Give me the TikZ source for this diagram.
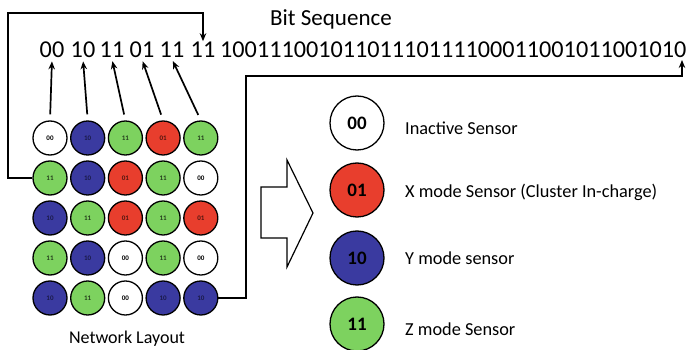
\documentclass[tikz,border=0pt]{standalone}
\usepackage{fontspec}
\setmainfont{Carlito}
\usetikzlibrary{arrows.meta}
\definecolor{sred}{RGB}{232,62,45}
\definecolor{sblue}{RGB}{58,58,160}
\definecolor{sgreen}{RGB}{125,210,95}
\tikzset{
  sensor/.style={circle, draw=black, line width=1.3pt, minimum size=34pt, inner sep=0pt,
    font=\fontsize{7}{8}\selectfont\bfseries},
  t00/.style={sensor, fill=white, text=black},
  t01/.style={sensor, fill=sred, text=sred!35!black},
  t10/.style={sensor, fill=sblue, text=sblue!45!black},
  t11/.style={sensor, fill=sgreen, text=sgreen!30!black},
  bigsensor/.style={circle, draw=black, line width=1.3pt, minimum size=54pt, inner sep=0pt,
    font=\fontsize{19}{22}\selectfont\bfseries, text=black},
  pair/.style={anchor=base, inner sep=1pt, font=\fontsize{24.2}{28}\selectfont},
  legendtext/.style={anchor=base west, inner sep=0pt, font=\fontsize{18.3}{21}\selectfont},
  conn/.style={line width=1.7pt, draw=black},
  tip/.style={-{Stealth[length=8pt,width=6.5pt]}},
}
\begin{document}
\begin{tikzpicture}[x=1pt, y=-1pt]
\useasboundingbox (0,0) rectangle (689,350);

% title
\node[anchor=base, inner sep=0pt, font=\fontsize{23}{27}\selectfont] (title) at (331,26) {Bit Sequence};

% bit sequence
\node[pair] (p1) at (52,58) {00};
\node[pair] (p2) at (83,58) {10};
\node[pair] (p3) at (112,58) {11};
\node[pair] (p4) at (142,58) {01};
\node[pair] (p5) at (172,58) {11};
\node[pair] (p6) at (203,58) {11};
\node[pair, anchor=base west, inner sep=0pt] (seq) at (220,58) {10011100101101110111100011001011001010};

% network grid
\foreach \row [count=\r] in {{00,10,11,01,11},{11,10,01,11,00},{10,11,01,11,01},{11,10,00,11,00},{10,11,00,10,10}}{
  \foreach \c [count=\k] in \row {
    \node[t\c] (c\r\k) at ({12.3+37.7*\k},{98+40*\r}) {\c};
  }
}
\node[anchor=base, inner sep=0pt, font=\fontsize{18}{21}\selectfont] (netlabel) at (127,343) {Network Layout};

% arrows from first row to pairs
\draw[conn, tip, shorten <=6pt, shorten >=2pt] (c11.north) -- (p1.south);
\draw[conn, tip, shorten <=6pt, shorten >=2pt] (c12.north) -- (p2.south);
\draw[conn, tip, shorten <=6pt, shorten >=2pt] (c13.north) -- (p3.south);
\draw[conn, tip, shorten <=6pt, shorten >=2pt] (c14.north) -- (p4.south);
\draw[conn, tip, shorten <=6pt, shorten >=2pt] (c15.north) -- (p5.south);

% left bracket
\coordinate (lb) at (8,13);
\draw[conn, tip] (c21.west) -| (lb) -| (p6.north);

% right bracket
\coordinate (rb) at (246,76);
\coordinate (se) at (682,60);
\draw[conn, tip] (c55.east) -| (rb) -| (se);

% block arrow
\draw[line width=1.2pt, line join=miter] (261,187) -- (287,187) -- (287,160) -- (313,213) -- (287,267) -- (287,238) -- (261,238) -- cycle;

% legend
\node[bigsensor, fill=white] (L1) at (357,123) {00};
\node[bigsensor, fill=sred] (L2) at (357,190) {01};
\node[bigsensor, fill=sblue] (L3) at (357,258) {10};
\node[bigsensor, fill=sgreen] (L4) at (357,324) {11};
\node[legendtext] (T1) at (405,135) {Inactive Sensor};
\node[legendtext] (T2) at (405,198) {X mode Sensor (Cluster In-charge)};
\node[legendtext] (T3) at (405,265) {Y mode sensor};
\node[legendtext] (T4) at (405,335) {Z mode Sensor};
\end{tikzpicture}
\end{document}
